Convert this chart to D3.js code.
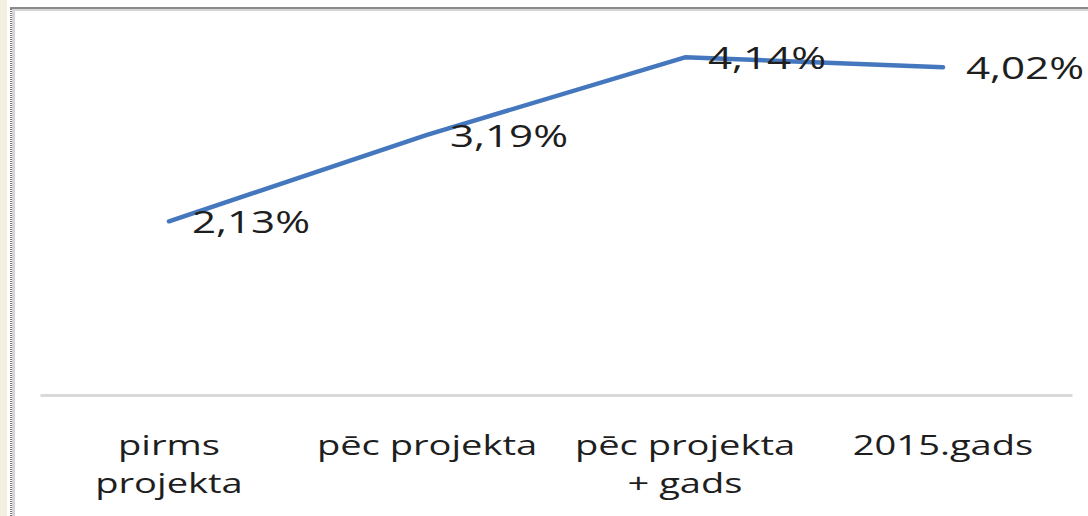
<!DOCTYPE html>
<html>
<head>
<meta charset="utf-8">
<script src="https://cdn.jsdelivr.net/npm/d3@7"></script>
<style>
  html, body { margin: 0; padding: 0; background: #fff; }
  svg { display: block; }
</style>
</head>
<body>
<div id="plot"></div>
<script>
// chart data
var categories = ["pirms projekta", "pēc projekta", "pēc projekta + gads", "2015.gads"];
var categoryLines = [["pirms", "projekta"], ["pēc projekta"], ["pēc projekta", "+ gads"], ["2015.gads"]];
var values = [2.13, 3.19, 4.14, 4.02];
var valueLabels = ["2,13%", "3,19%", "4,14%", "4,02%"];

var W = 1088, H = 516;
var stretch = 1.36; // the picture is stretched sideways

var svg = d3.select("#plot").append("svg")
  .attr("width", W)
  .attr("height", H);

// page frame bits round the chart
svg.append("rect").attr("x", 0).attr("y", 0).attr("width", 7).attr("height", H).attr("fill", "#f3efe1");
svg.append("line").attr("x1", 11).attr("x2", 11).attr("y1", 7).attr("y2", H)
  .attr("stroke", "#7a7a7a").attr("stroke-width", 2).attr("stroke-dasharray", "1,1");
svg.append("line").attr("x1", 13.5).attr("x2", 13.5).attr("y1", 9).attr("y2", H)
  .attr("stroke", "#d4d4d4").attr("stroke-width", 3);
svg.append("line").attr("x1", 10).attr("x2", W).attr("y1", 8).attr("y2", 8)
  .attr("stroke", "#8a8a8a").attr("stroke-width", 2);
svg.append("line").attr("x1", 12).attr("x2", W).attr("y1", 10).attr("y2", 10)
  .attr("stroke", "#d6d6d6").attr("stroke-width", 2);

var x = d3.scalePoint()
  .domain(categories)
  .range([40, 1072])
  .padding(0.5);

var y = d3.scaleLinear()
  .domain([0, 4.5])
  .range([395, 28]);

// category axis
var axis = svg.append("g")
  .attr("transform", "translate(0," + y(0) + ")")
  .call(d3.axisBottom(x).tickSize(0).tickFormat(""));
axis.select(".domain").attr("stroke", "#d9d9d9").attr("stroke-width", 3);
axis.selectAll(".tick").remove();

categories.forEach(function(c, i) {
  categoryLines[i].forEach(function(line, j) {
    svg.append("text")
      .attr("transform", "translate(" + x(c) + "," + (455 + j * 38) + ") scale(" + stretch + ",1)")
      .attr("text-anchor", "middle")
      .style("font-family", "'Open Sans', sans-serif")
      .style("font-size", "28px")
      .style("fill", "#1e1e1e")
      .text(line);
  });
});

// the line
var lineFn = d3.line()
  .x(function(d, i) { return x(categories[i]); })
  .y(function(d) { return y(d); })
  .curve(d3.curveLinear);

svg.append("path")
  .attr("d", lineFn(values))
  .attr("stroke", "#4577be")
  .attr("stroke-width", 4.5)
  .attr("stroke-linejoin", "round")
  .attr("stroke-linecap", "round")
  .attr("fill", "none");

// value labels, right of each point
values.forEach(function(v, i) {
  svg.append("text")
    .attr("transform", "translate(" + (x(categories[i]) + 23) + "," + (y(v) + 12) + ") scale(" + stretch + ",1)")
    .attr("text-anchor", "start")
    .style("font-family", "'Open Sans', sans-serif")
    .style("font-size", "31px")
    .style("fill", "#1e1e1e")
    .text(valueLabels[i]);
});
</script>
</body>
</html>
